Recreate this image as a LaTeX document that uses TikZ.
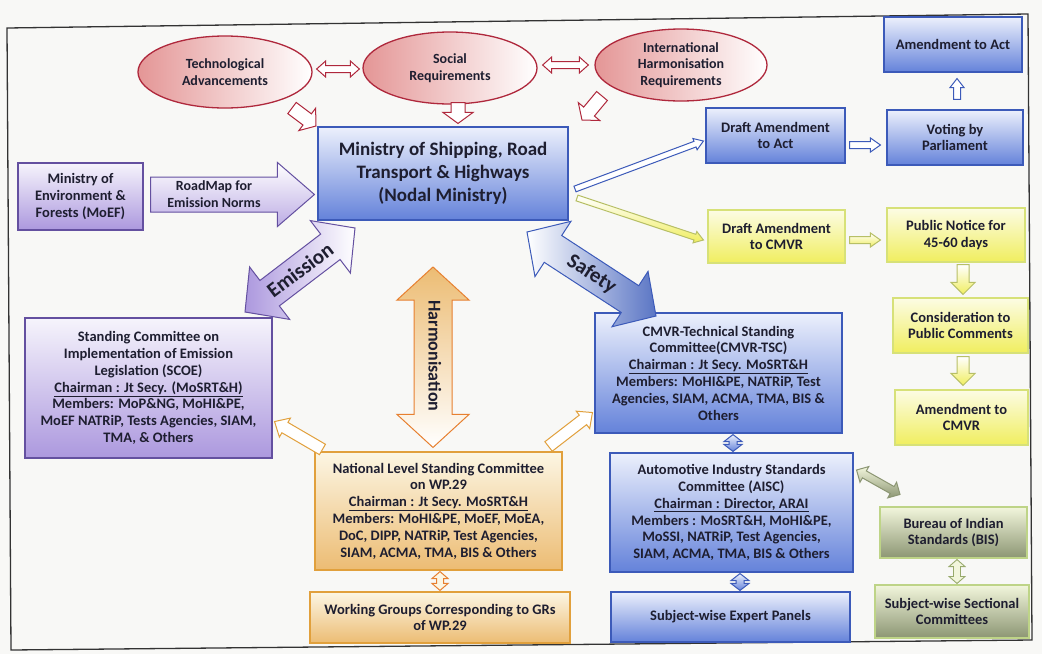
\documentclass[tikz,border=0pt]{standalone}
\usepackage{fontspec}
\setmainfont{Carlito}[BoldFont={Carlito Bold}]
\usetikzlibrary{calc,shapes.geometric,shadows}
\definecolor{bg}{RGB}{248,248,246}
\definecolor{txt}{RGB}{30,30,48}
\definecolor{redB}{RGB}{175,40,60}
\definecolor{redF}{RGB}{228,150,150}
\definecolor{blueB}{RGB}{60,90,185}
\definecolor{blueT}{RGB}{236,240,252}
\definecolor{blueD}{RGB}{100,130,218}
\definecolor{purB}{RGB}{100,80,160}
\definecolor{purT}{RGB}{246,244,252}
\definecolor{purD}{RGB}{172,152,222}
\definecolor{yelB}{RGB}{215,225,120}
\definecolor{yelT}{RGB}{252,252,228}
\definecolor{yelD}{RGB}{240,238,95}
\definecolor{orB}{RGB}{225,160,60}
\definecolor{orT}{RGB}{252,246,228}
\definecolor{orD}{RGB}{236,188,115}
\definecolor{grB}{RGB}{190,212,135}
\definecolor{grT}{RGB}{242,246,220}
\definecolor{grD}{RGB}{140,150,115}
% single block arrow: style, tail, tip, shaft half width, head half width, head length
\newcommand\sarrow[6]{%
  \coordinate (bat) at #2; \coordinate (bah) at #3;
  \coordinate (ban) at ($(bah)!#6!(bat)$);
  \path[#1] ($(bat)!#4!90:(bah)$) -- ($(ban)!#4!-90:(bat)$) -- ($(ban)!#5!-90:(bat)$)
    -- (bah) -- ($(ban)!#5!90:(bat)$) -- ($(ban)!#4!90:(bat)$) -- ($(bat)!#4!-90:(bah)$) -- cycle;}
% double block arrow
\newcommand\darrow[6]{%
  \coordinate (bat) at #2; \coordinate (bah) at #3;
  \coordinate (bn1) at ($(bat)!#6!(bah)$);
  \coordinate (bn2) at ($(bah)!#6!(bat)$);
  \path[#1] (bat) -- ($(bn1)!#5!90:(bah)$) -- ($(bn1)!#4!90:(bah)$) -- ($(bn2)!#4!-90:(bat)$)
    -- ($(bn2)!#5!-90:(bat)$) -- (bah) -- ($(bn2)!#5!90:(bat)$) -- ($(bn2)!#4!90:(bat)$)
    -- ($(bn1)!#4!-90:(bah)$) -- ($(bn1)!#5!-90:(bah)$) -- cycle;}
\tikzset{
  base/.style={line width=1.1pt, align=center, inner sep=1pt, text=txt,
    font=\bfseries\fontsize{14.5}{16.8}\selectfont,
    drop shadow={shadow xshift=1pt, shadow yshift=-1.3pt, opacity=.4}},
  bluebox/.style={base, draw=blueB, top color=blueT, bottom color=blueD},
  purbox/.style={base, draw=purB, top color=purT, bottom color=purD},
  yelbox/.style={base, draw=yelB, top color=yelT, bottom color=yelD},
  orbox/.style={base, draw=orB, top color=orT, bottom color=orD},
  grbox/.style={base, draw=grB, top color=grT, bottom color=grD},
  ell/.style={ellipse, draw=redB, line width=1.3pt, left color=redF, right color=white,
    align=center, inner sep=0pt, text=txt, font=\bfseries\fontsize{14}{16.8}\selectfont},
  redarr/.style={draw=redB, line width=1pt, fill=white},
  bluearr/.style={draw=blueB, line width=1pt, fill=white},
  yelarr/.style={draw=yelB!85!black, line width=1pt, top color=white, bottom color=yelD},
  orarr/.style={draw=orB, line width=1pt, fill=white},
  blfill/.style={draw=blueB, line width=1pt, top color=blueT, bottom color=blueD},
  grarr/.style={draw=grD, line width=1pt, top color=grT, bottom color=grD},
  bigtxt/.style={text=txt, inner sep=0pt, font=\bfseries\fontsize{21}{24}\selectfont},
}
\begin{document}
\begin{tikzpicture}[x=1pt,y=-1pt]
\useasboundingbox (0,0) rectangle (1042,654);
\fill[bg] (0,0) rectangle (1042,654);
\draw[line width=1.3pt, black!80] (7,28) -- (1028,14) -- (1032,640) -- (11,650) -- cycle;

% ellipses
\node[ell, minimum width=174pt, minimum height=72pt] (tech) at (225,72) {Technological\\Advancements};
\node[ell, minimum width=174pt, minimum height=72pt] (social) at (450,68) {Social\\Requirements};
\node[ell, minimum width=172pt, minimum height=72pt] (intl) at (681,65) {International\\Harmonisation\\Requirements};

% boxes
\node[bluebox, minimum width=250pt, minimum height=93pt, font=\bfseries\fontsize{19}{23}\selectfont] (msrth) at (443,173.5)
  {Ministry of Shipping, Road\\Transport \& Highways\\(Nodal Ministry)};
\node[purbox, minimum width=125pt, minimum height=67pt] (moef) at (80.5,196.5) {Ministry of\\Environment \&\\Forests (MoEF)};
\node[bluebox, minimum width=139pt, minimum height=55pt] (dact) at (775.5,135.5) {Draft Amendment\\to Act};
\node[bluebox, minimum width=136pt, minimum height=55pt] (vote) at (955,137.5) {Voting by\\Parliament};
\node[bluebox, minimum width=138pt, minimum height=55pt] (aact) at (953,44.5) {Amendment to Act};
\node[yelbox, minimum width=137pt, minimum height=53pt] (dcmvr) at (776.5,236.5) {Draft Amendment\\to CMVR};
\node[yelbox, minimum width=138pt, minimum height=54pt] (pnotice) at (956,235) {Public Notice for\\45-60 days};
\node[yelbox, minimum width=135pt, minimum height=55pt] (cons) at (960.5,325.5) {Consideration to\\Public Comments};
\node[yelbox, minimum width=133pt, minimum height=55pt] (acmvr) at (961.5,417.5) {Amendment to\\CMVR};
\node[purbox, minimum width=247pt, minimum height=140pt] (scoe) at (148.5,388)
  {Standing Committee on\\Implementation of Emission\\Legislation (SCOE)\\\underline{Chairman : Jt Secy. (MoSRT\&H)}\\Members: MoP\&NG, MoHI\&PE,\\MoEF NATRiP, Tests Agencies, SIAM,\\TMA, \& Others};
\node[orbox, minimum width=247pt, minimum height=118pt] (nlsc) at (438.5,511)
  {National Level Standing Committee\\on WP.29\\\underline{Chairman : Jt Secy. MoSRT\&H}\\Members: MoHI\&PE, MoEF, MoEA,\\DoC, DIPP, NATRiP, Test Agencies,\\SIAM, ACMA, TMA, BIS \& Others};
\node[orbox, minimum width=260pt, minimum height=51pt] (wg) at (440,617.5) {Working Groups Corresponding to GRs\\of WP.29};
\node[bluebox, minimum width=247pt, minimum height=120pt] (tsc) at (718.5,373)
  {CMVR-Technical Standing\\Committee(CMVR-TSC)\\\underline{Chairman : Jt Secy. MoSRT\&H}\\Members: MoHI\&PE, NATRiP, Test\\Agencies, SIAM, ACMA, TMA, BIS \&\\Others};
\node[bluebox, minimum width=243pt, minimum height=119pt] (aisc) at (731.5,512.5)
  {Automotive Industry Standards\\Committee (AISC)\\\underline{Chairman : Director, ARAI}\\Members : MoSRT\&H, MoHI\&PE,\\MoSSI, NATRiP, Test Agencies,\\SIAM, ACMA, TMA, BIS \& Others};
\node[bluebox, minimum width=239pt, minimum height=50pt] (sep) at (730.5,617) {Subject-wise Expert Panels};
\node[grbox, minimum width=147pt, minimum height=51pt] (bis) at (953.5,532.5) {Bureau of Indian\\Standards (BIS)};
\node[grbox, minimum width=154pt, minimum height=53pt] (swsc) at (952,611.5) {Subject-wise Sectional\\Committees};

% connectors between ellipses
\darrow{redarr}{($(tech.east)+(4,-3)$)}{($(social.west)+(-3,1)$)}{3.5pt}{8pt}{9pt}
\darrow{redarr}{($(social.east)+(5,-3)$)}{($(intl.west)+(-6,0)$)}{3.5pt}{8pt}{9pt}
% ellipses to ministry
\coordinate (t1) at (292,108); \coordinate (h1) at (316,126);
\sarrow{redarr}{(t1)}{(h1)}{7pt}{14pt}{11pt}
\sarrow{redarr}{($(social.south)+(8,-2)$)}{($(msrth.north)+(15,-3)$)}{7pt}{15pt}{11pt}
\coordinate (t3) at (602,96); \coordinate (h3) at (582,120);
\sarrow{redarr}{(t3)}{(h3)}{7pt}{14pt}{11pt}

% roadmap arrow
\sarrow{draw=purB, line width=1pt, top color=white, bottom color=purD!80}{($(moef.east)+(7,-2)$)}{($(msrth.west |- moef.east)+(-3,-2)$)}{17.5pt}{32pt}{37pt}
\node[text=txt, align=center, font=\bfseries\fontsize{14}{16.8}\selectfont] (roadmap) at (214,194) {RoadMap for\\Emission Norms};

% ministry to drafts
\coordinate (m1) at (575,189); \coordinate (m2) at (577,198);
\sarrow{bluearr}{(m1)}{($(dact.west)+(-2,5.5)$)}{3pt}{6pt}{9pt}
\sarrow{yelarr}{(m2)}{($(dcmvr.west)+(-4,3.5)$)}{3pt}{6pt}{9pt}

% act chain
\sarrow{bluearr}{($(dact.east)+(4,9.5)$)}{($(vote.west)+(-6,7.5)$)}{3.5pt}{7pt}{10pt}
\sarrow{bluearr}{($(vote.north)+(2,-10)$)}{($(aact.south)+(4,6)$)}{3.5pt}{7pt}{9pt}
% cmvr chain
\sarrow{yelarr}{($(dcmvr.east)+(4,3.5)$)}{($(pnotice.west)+(-6,5)$)}{3.5pt}{7pt}{10pt}
\sarrow{yelarr}{($(pnotice.south)+(7,2)$)}{($(cons.north)+(2.5,-3)$)}{6pt}{12pt}{12pt}
\sarrow{yelarr}{($(cons.south)+(2.5,3)$)}{($(acmvr.north)+(1.5,-4)$)}{6pt}{12pt}{12pt}

% big double arrows
\coordinate (e1) at (245,312); \coordinate (e2) at (355,228);
\darrow{draw=purB, line width=1pt, left color=purD, right color=white}{(e1)}{(e2)}{16pt}{33pt}{31pt}
\node[bigtxt, rotate=37] (emis) at ($(e1)!.5!(e2)$) {Emission};
\coordinate (s1) at (527,232); \coordinate (s2) at (656,316);
\darrow{draw=blueB, line width=1pt, left color=white, right color=blueD!90!black}{(s1)}{(s2)}{16pt}{33pt}{31pt}
\node[bigtxt, rotate=-33] (safe) at ($(s1)!.5!(s2)$) {Safety};
\coordinate (hh1) at (433,267);
\darrow{draw=orB!80!red, line width=1pt, top color=orD, bottom color=white}{(hh1)}{($(nlsc.north)+(-5.5,-4)$)}{19pt}{36pt}{33pt}
\node[bigtxt, rotate=-90, font=\bfseries\fontsize{18}{22}\selectfont] (harm) at (435,356) {Harmonisation};

% national committee links
\sarrow{orarr}{($(nlsc.north west)+(8,-2)$)}{($(scoe.south east)+(2,-37)$)}{6pt}{11pt}{12pt}
\sarrow{orarr}{($(nlsc.north east)+(-14,-5)$)}{($(tsc.south west)+(-2,-21)$)}{6pt}{11pt}{12pt}
\darrow{draw=orB!80!red, line width=1pt, fill=orT}{($(nlsc.south)+(1.5,1)$)}{($(wg.north)+(0,-1)$)}{3.5pt}{8pt}{7pt}

% blue column links
\darrow{blfill}{($(tsc.south)+(14.5,1)$)}{($(aisc.north)+(1.5,-1)$)}{4pt}{9pt}{7pt}
\darrow{blfill}{($(aisc.south)+(8.5,1)$)}{($(sep.north)+(9.5,-1)$)}{4pt}{9pt}{7pt}

% BIS links
\darrow{grarr}{($(bis.north)+(-53.5,-12)$)}{($(aisc.east)+(3,-42.5)$)}{4pt}{9pt}{9pt}
\darrow{draw=grB!80!black, line width=.9pt, fill=grT}{($(bis.south)+(3.5,1)$)}{($(swsc.north)+(5,-1)$)}{3.5pt}{8pt}{7pt}
\end{tikzpicture}
\end{document}
